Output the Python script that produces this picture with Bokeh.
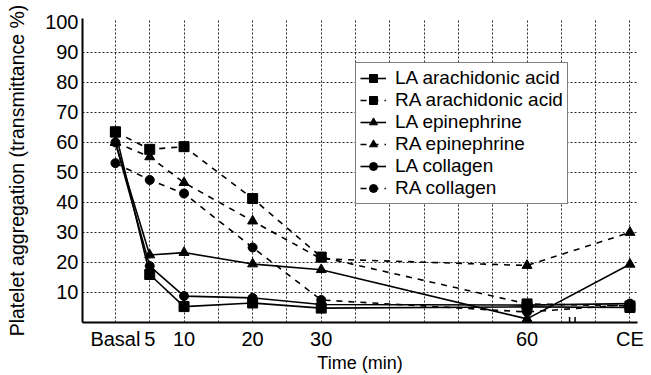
from bokeh.plotting import figure
from bokeh.models import FixedTicker, Legend, LegendItem, Arrow, Range1d
from bokeh.embed import file_html
from bokeh.resources import INLINE

# ---- data ----
times = [0, 5, 10, 20, 30, 60, 75]
tick_labels = {0: "Basal", 5: "5", 10: "10", 20: "20", 30: "30", 60: "60", 75: "CE"}
y_ticks = [10, 20, 30, 40, 50, 60, 70, 80, 90, 100]
grid_x = [0, 5, 10, 15, 20, 25, 30, 35, 40, 45, 50, 55, 60, 65, 70, 75]
break_at = [66.2, 67.0]

la_arachidonic = [63.5, 16.0, 5.3, 6.5, 4.8, 5.2, 5.0]
ra_arachidonic = [63.5, 57.7, 58.6, 41.3, 21.8, 6.2, 5.5]
la_epinephrine = [60.0, 22.5, 23.3, 19.5, 17.6, 1.2, 19.4]
ra_epinephrine = [60.0, 55.2, 46.6, 33.8, 21.2, 19.0, 30.0]
la_collagen = [60.0, 18.8, 8.8, 8.2, 6.0, 5.8, 6.3]
ra_collagen = [53.1, 47.5, 43.0, 25.0, 7.5, 3.5, 6.0]

series = [
    ("LA arachidonic acid", la_arachidonic, "solid", "square"),
    ("RA arachidonic acid", ra_arachidonic, "dashed", "square"),
    ("LA epinephrine", la_epinephrine, "solid", "triangle"),
    ("RA epinephrine", ra_epinephrine, "dashed", "triangle"),
    ("LA collagen", la_collagen, "solid", "circle"),
    ("RA collagen", ra_collagen, "dashed", "circle"),
]

FONT = "Liberation Sans"

p = figure(width=651, height=375, output_backend="svg", toolbar_location=None,
           x_range=Range1d(-4.8, 76.1), y_range=Range1d(0, 101.3),
           min_border_left=82, min_border_right=14, min_border_top=18, min_border_bottom=50)
p.outline_line_color = None
p.background_fill_color = "white"

# axes
for ax in (p.xaxis[0], p.yaxis[0]):
    ax.axis_line_color = "black"
    ax.axis_line_width = 2
    ax.major_tick_line_color = None
    ax.minor_tick_line_color = None
    ax.major_tick_out = 0
    ax.major_tick_in = 0
    ax.minor_tick_out = 0
    ax.minor_tick_in = 0
    ax.major_label_text_font = FONT
    ax.major_label_text_font_size = "20px"
    ax.major_label_text_color = "black"
    ax.axis_label_text_font = FONT
    ax.axis_label_text_font_style = "normal"
    ax.axis_label_text_color = "black"

p.xaxis.ticker = FixedTicker(ticks=times)
p.xaxis.major_label_overrides = tick_labels
p.xaxis.axis_label = "Time (min)"
p.xaxis.axis_label_text_font_size = "18px"
p.xaxis.major_label_standoff = 5
p.xaxis.axis_label_standoff = 0

p.yaxis.ticker = FixedTicker(ticks=y_ticks)
p.yaxis.axis_label = "Platelet aggregation (transmittance %)"
p.yaxis.axis_label_text_font_size = "19.5px"
p.yaxis.major_label_standoff = 4
p.yaxis.axis_label_standoff = 14

# grids
p.xgrid.ticker = FixedTicker(ticks=grid_x)
p.ygrid.ticker = FixedTicker(ticks=y_ticks[:-1])
for g in (p.xgrid[0], p.ygrid[0]):
    g.grid_line_color = "black"
    g.grid_line_width = 1
    g.grid_line_dash = "2 2"
    g.grid_line_alpha = 0.85

items = []
for name, vals, dash, marker in series:
    ln = p.line(times, vals, line_color="black", line_width=1.6, line_dash=dash)
    size = 10 if marker in ("square", "triangle") else 9
    sc = p.scatter(times, vals, marker=marker, size=size, fill_color="black", line_color="black")
    items.append(LegendItem(label=name, renderers=[ln, sc]))

legend = Legend(items=items, location=(273, 118),
                label_text_font=FONT, label_text_font_size="19px", label_text_color="black",
                label_height=20, glyph_height=20, glyph_width=26, spacing=0,
                padding=4, margin=0, label_standoff=9,
                border_line_color="black", border_line_width=1.5,
                background_fill_color="white", background_fill_alpha=1.0)
p.add_layout(legend, "center")

# axis break mark
for bx in break_at:
    p.add_layout(Arrow(end=None, x_start=bx, x_end=bx, y_start=-1.8, y_end=1.8,
                       line_color="black", line_width=1.5))

open("out.html", "w").write(file_html(p, INLINE))
